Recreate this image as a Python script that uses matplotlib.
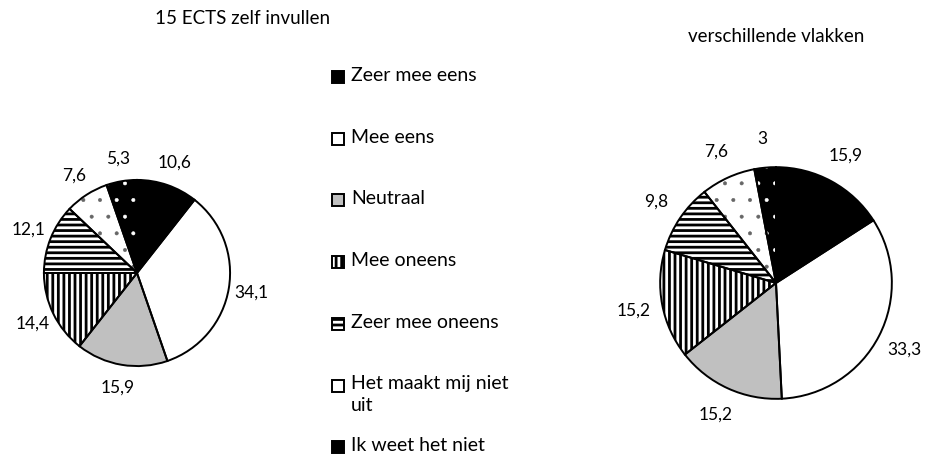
import matplotlib
matplotlib.use("Agg")
import matplotlib.pyplot as plt
from matplotlib.patches import Rectangle

plt.rcParams['font.family'] = ['Lato', 'DejaVu Sans']
plt.rcParams['hatch.linewidth'] = 2.0

categories = ["Zeer mee eens", "Mee eens", "Neutraal", "Mee oneens",
              "Zeer mee oneens", "Het maakt mij niet\nuit", "Ik weet het niet"]
left_title = "15 ECTS zelf invullen"
right_title = "verschillende vlakken"
left_values = [10.6, 34.1, 15.9, 14.4, 12.1, 7.6, 5.3]
right_values = [15.9, 33.3, 15.2, 15.2, 9.8, 7.6, 3]

faces = ["black", "white", "#c0c0c0", "white", "white", "white", "black"]
hatches = [None, None, None, "|||", "---", ".", "."]
hatch_cols = ["black", "black", "black", "black", "black", "#666666", "white"]

W, H = 927, 459
fig = plt.figure(figsize=(W / 100, H / 100), dpi=100)


def fmt(v):
    return ("%g" % v).replace(".", ",")


def style_patch(p, fc, h, hc):
    p.set_facecolor(fc)
    p.set_edgecolor(hc)
    p.set_linewidth(0)
    if h:
        p.set_hatch(h)
        if h == "." and hasattr(p, "set_hatch_linewidth"):
            p.set_hatch_linewidth(0.4)


def draw_pie(rect, values):
    ax = fig.add_axes(rect)
    wedges, texts = ax.pie(values, labels=[fmt(v) for v in values],
                           startangle=90, counterclock=False,
                           labeldistance=1.25,
                           textprops=dict(fontsize=12.5))
    for w, fc, h, hc in zip(wedges, faces, hatches, hatch_cols):
        style_patch(w, fc, h, hc)
    for t in texts:
        t.set_ha('center')
        t.set_va('center')
    # outlines
    ax.pie(values, startangle=90, counterclock=False,
           wedgeprops=dict(facecolor='none', edgecolor='black', linewidth=1.4))
    ax.set_xlim(-1.01, 1.01)
    ax.set_ylim(-1.01, 1.01)
    ax.set_aspect('equal')
    ax.axis('off')
    return ax


# left pie: centre (137,273) r 94 ; right pie: centre (776,283) r 117
draw_pie([(137 - 94) / W, (H - 273 - 94) / H, 188 / W, 188 / H], left_values)
draw_pie([(776 - 117) / W, (H - 283 - 117) / H, 234 / W, 234 / H], right_values)

fig.text(243 / W, 1 - 18 / H, left_title, ha='center', va='center', fontsize=13.5)
fig.text(776 / W, 1 - 37 / H, right_title, ha='center', va='center', fontsize=13.5)

# legend (manual)
y0, dy = 77, 61.7
for i, (cat, fc, h, hc) in enumerate(zip(categories, faces, hatches, hatch_cols)):
    yc = y0 + dy * i
    r = Rectangle((332 / W, 1 - (yc + 6) / H), 12 / W, 12 / H,
                  transform=fig.transFigure)
    style_patch(r, fc, h if h != "." else None, hc)
    fig.add_artist(r)
    fig.add_artist(Rectangle((332 / W, 1 - (yc + 6) / H), 12 / W, 12 / H,
                             transform=fig.transFigure, facecolor='none',
                             edgecolor='black', linewidth=1.4))
    fig.text(351 / W, 1 - (yc - 10) / H, cat, ha='left', va='top',
             fontsize=14, linespacing=1.35)

fig.savefig("out.png", dpi=100)
